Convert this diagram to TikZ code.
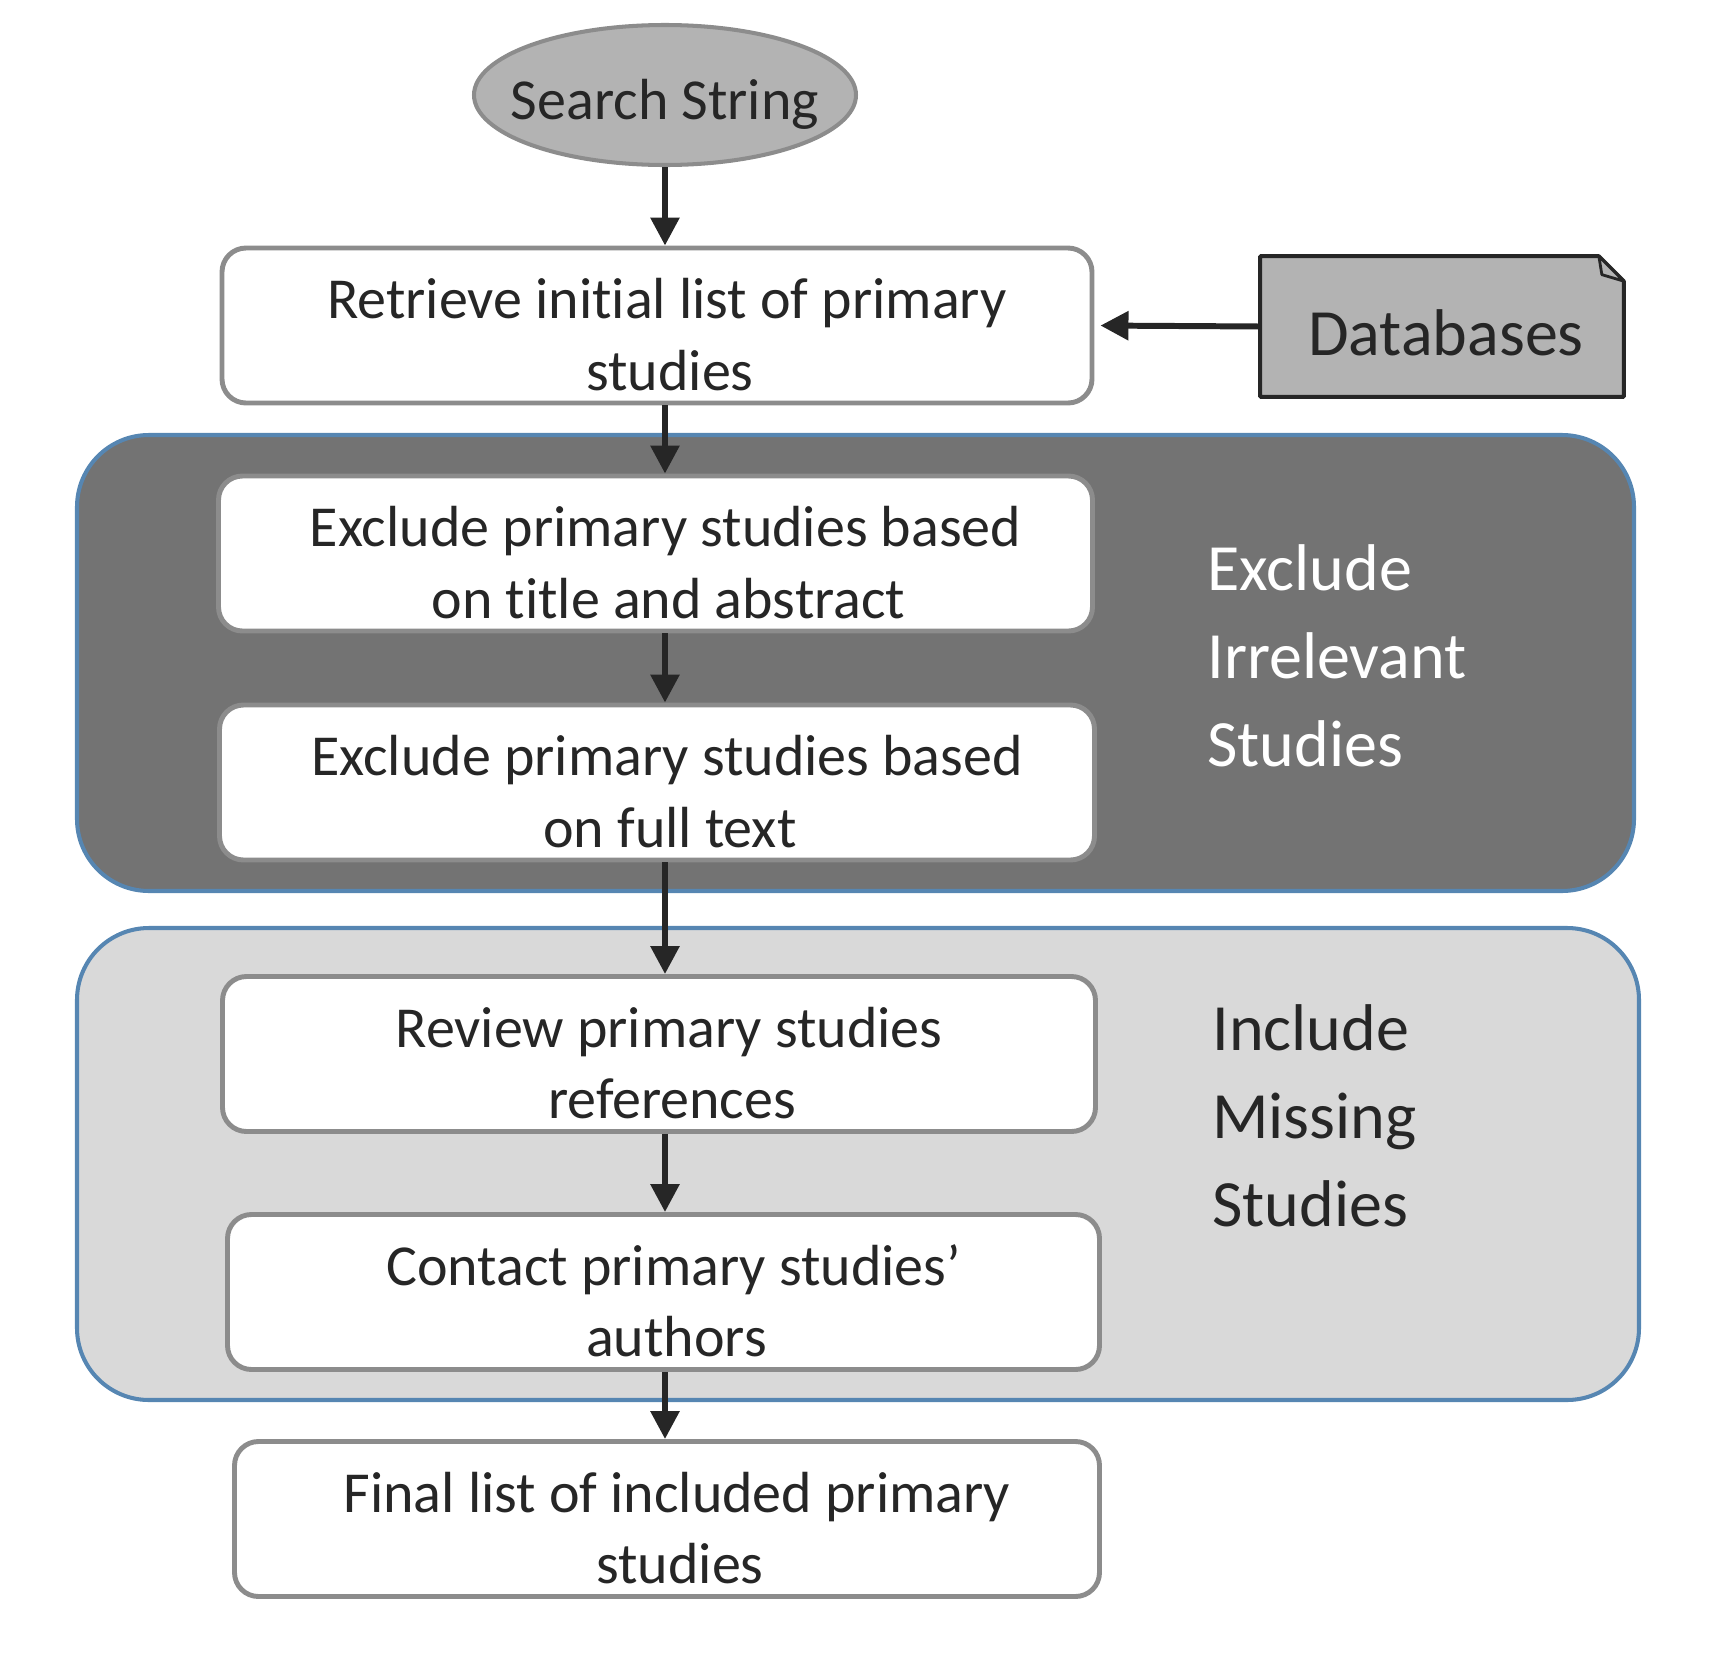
\documentclass[tikz,border=0pt]{standalone}
\usepackage{fontspec}
\setmainfont{Carlito}[Ligatures=NoCommon]
\usepackage{tikz}
\usetikzlibrary{arrows.meta,shapes.geometric,backgrounds}
\usepackage{xcolor}
\definecolor{ink}{RGB}{38,38,38}
\definecolor{boxline}{RGB}{140,140,140}
\definecolor{keyfill}{RGB}{179,179,179}
\definecolor{grpline}{RGB}{86,134,178}
\definecolor{excl}{RGB}{115,115,115}
\definecolor{incl}{RGB}{217,217,217}
\newcommand{\brk}{\\\hspace*{0.12cm}}

\begin{document}
\begin{tikzpicture}[
  sbox/.style={draw=boxline, line width=2.8pt, fill=white, rounded corners=0.48cm,
               minimum width=17.4cm, minimum height=3.1cm, align=center, text=ink,
               text height=2.6cm, font=\fontsize{33}{40.7}\selectfont,
               execute at begin node={\hspace*{0.4cm}}},
  grp/.style={draw=grpline, line width=2.3pt, rounded corners=1.44cm, inner sep=0pt},
  glabel/.style={anchor=west, align=left, inner sep=0pt, font=\fontsize{37.6}{50}\selectfont},
  arr/.style={-{Triangle[length=0.56cm,width=0.56cm]}, line width=3.4pt, draw=ink},
]
\useasboundingbox (0,0) rectangle (34.48,-33.22);

% Groups
\node[grp, fill=excl, minimum width=31.14cm, minimum height=9.12cm] (gexcl) at (17.11,-13.26) {};
\node[grp, fill=incl, minimum width=31.24cm, minimum height=9.44cm] (gincl) at (17.16,-23.28) {};

% Search string
\node[ellipse, draw=boxline, line width=2.3pt, fill=keyfill, inner sep=0pt,
      minimum width=7.64cm, minimum height=2.8cm, text=ink,
      font=\fontsize{33}{39.8}\selectfont] (search) at (13.3,-1.9)
      {\makebox[0pt]{\rule{0pt}{1em}Search String}};

% Steps
\node[sbox] (retrieve) at (13.14,-6.51) {Retrieve initial list of primary\brk studies};
\node[sbox, minimum width=17.48cm] (title) at (13.11,-11.07) {Exclude primary studies based\brk on title and abstract};
\node[sbox, minimum width=17.5cm] (full) at (13.14,-15.65) {Exclude primary studies based\brk on full text};
\node[sbox, minimum width=17.46cm] (review) at (13.18,-21.08) {Review primary studies\brk references};
\node[sbox, minimum width=17.44cm] (contact) at (13.27,-25.84) {Contact primary studies’\brk authors};
\node[sbox, minimum width=17.3cm] (final) at (13.34,-30.38) {Final list of included primary\brk studies};

% Databases
\node[text=ink, minimum width=7.26cm, minimum height=2.8cm, inner sep=0pt,
      font=\fontsize{37.6}{45}\selectfont] (db) at (28.84,-6.53) {\rule{0pt}{0.9em}\hspace*{0.16cm}Databases};
\begin{scope}[on background layer]
\filldraw[fill=keyfill, draw=ink, line width=2.2pt, line join=round]
  (db.north west) -- ([xshift=-0.5cm]db.north east) -- ([yshift=-0.5cm]db.north east)
  -- (db.south east) -- (db.south west) -- cycle;
\filldraw[fill=keyfill, draw=ink, line width=1.6pt, line join=round]
  ([xshift=-0.5cm]db.north east) -- ++(0.06,-0.37) -- ([yshift=-0.5cm]db.north east) -- cycle;
\end{scope}

% Labels
\node[glabel, text=white] (lexcl) at (24.14,-13.12) {Exclude\\Irrelevant\\Studies};
\node[glabel, text=ink] (lincl) at (24.24,-22.32) {Include\\Missing\\Studies};

% Arrows
\draw[arr] (search.south) -- (search.south |- retrieve.north);
\draw[arr, shorten >=0.12cm] (db.west) -- (retrieve.east);
\draw[arr] (retrieve.south -| search.south) -- (title.north -| search.south);
\draw[arr] (title.south -| search.south) -- (full.north -| search.south);
\draw[arr] (full.south -| search.south) -- (review.north -| search.south);
\draw[arr] (review.south -| search.south) -- (contact.north -| search.south);
\draw[arr] (contact.south -| search.south) -- (final.north -| search.south);
\end{tikzpicture}
\end{document}
